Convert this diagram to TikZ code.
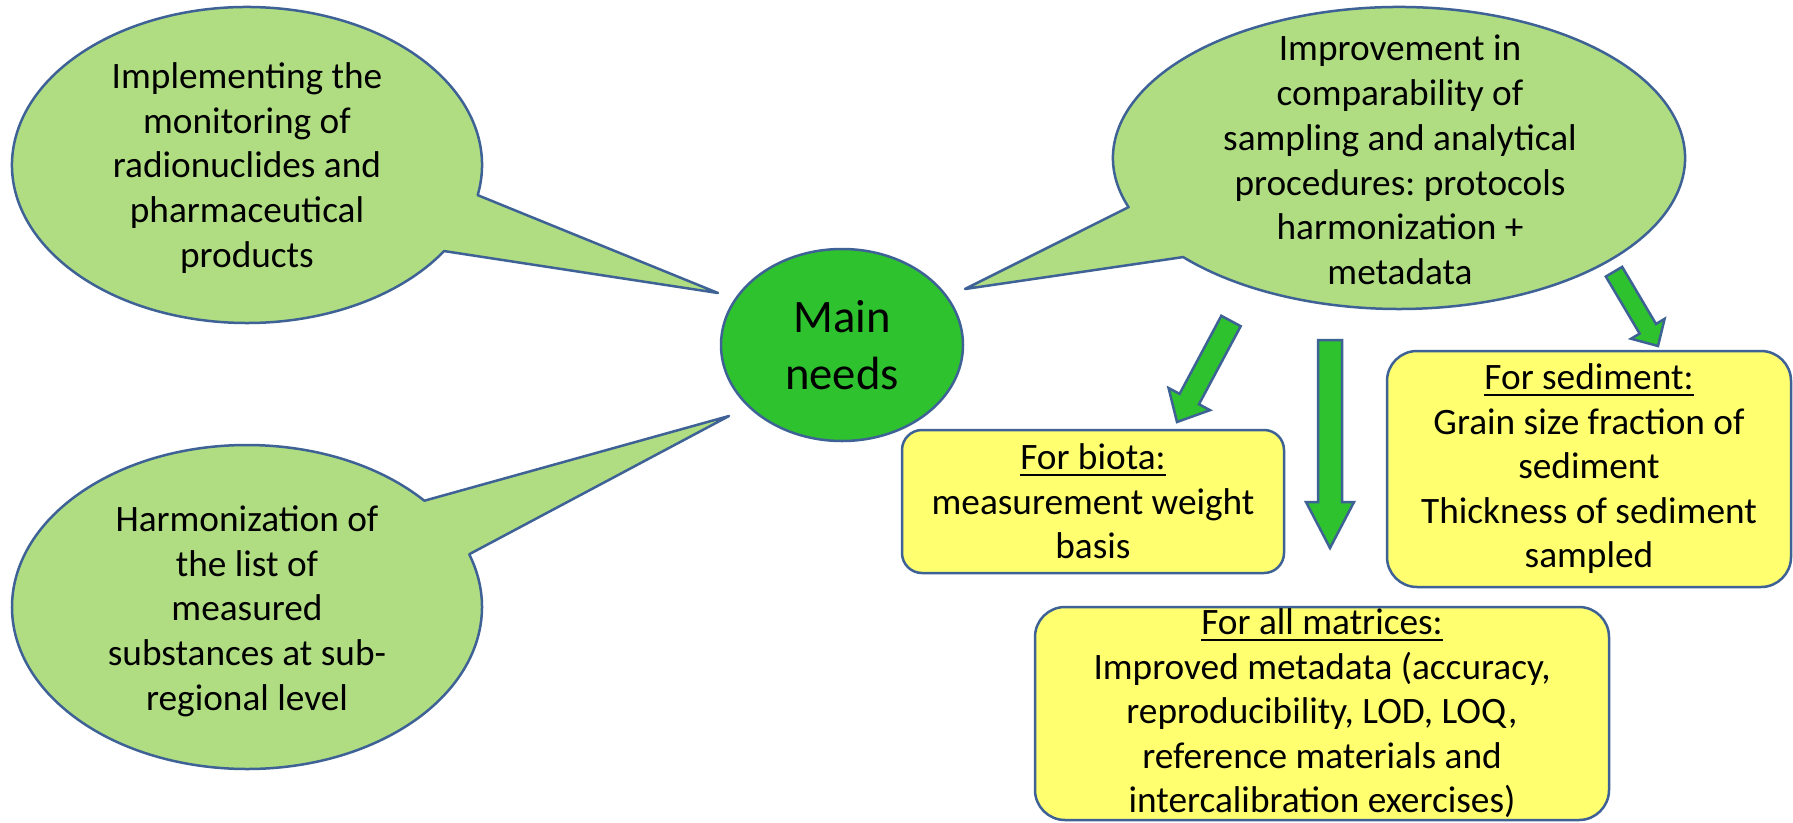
\documentclass[tikz,border=0pt]{standalone}
\usepackage{fontspec}
\setmainfont{Carlito}
\usetikzlibrary{shapes.geometric,calc}
\frenchspacing

\definecolor{edgeblue}{RGB}{62,98,150}
\definecolor{bubblegreen}{RGB}{176,221,130}
\definecolor{needgreen}{RGB}{46,194,46}
\definecolor{noteyellow}{RGB}{255,255,112}

\tikzset{
  bubble/.style={fill=bubblegreen, draw=edgeblue, line width=2.5pt, line join=round},
  bubbletext/.style={align=center, font=\fontsize{37.3}{44.7}\selectfont},
  hub/.style={ellipse, fill=needgreen, draw=edgeblue, line width=2.5pt,
    minimum width=242pt, minimum height=192pt, inner sep=0pt, align=center,
    font=\fontsize{46.6}{57}\selectfont},
  note/.style={rectangle, fill=noteyellow, draw=edgeblue, line width=2.5pt,
    inner sep=0pt, align=center, font=\fontsize{37.3}{44.5}\selectfont},
  flow/.style={fill=needgreen, draw=edgeblue, line width=2.5pt, line join=miter}
}

% underlined heading
\newcommand{\undl}[1]{\setbox0\hbox{#1}\rlap{\rule[-6pt]{\wd0}{2pt}}\box0}
% block arrow: start, end, half shaft, half head, head length
\newcommand{\flowarrow}[5]{%
  \path ($(#2)!#5pt!(#1)$) coordinate (hb);
  \filldraw[flow] ($(#1)!#3pt!90:(#2)$) -- ($(hb)!#3pt!90:(#2)$) -- ($(hb)!#4pt!90:(#2)$)
    -- (#2) -- ($(hb)!#4pt!-90:(#2)$) -- ($(hb)!#3pt!-90:(#2)$) -- ($(#1)!#3pt!-90:(#2)$) -- cycle;
}

\begin{document}
\begin{tikzpicture}[x=1pt, y=-1pt]
  \path[use as bounding box, fill=white] (0,0) rectangle (1793,822);

  \coordinate (tipA) at (718,293);
  \coordinate (tipB) at (729,416);
  \coordinate (tipC) at (965,289);

  % speech bubbles
  \filldraw[bubble] (247,165) ++(11:235 and 158)
    arc[start angle=11, end angle=-327, x radius=235, y radius=158] -- (tipA) -- cycle;
  \filldraw[bubble] (247,607) ++(-41:235 and 162)
    arc[start angle=-41, end angle=-379, x radius=235, y radius=162] -- (tipB) -- cycle;
  \filldraw[bubble] (1399,158) ++(161:286 and 151)
    arc[start angle=161, end angle=499, x radius=286, y radius=151] -- (tipC) -- cycle;

  \node[bubbletext] (impl) at (247,168) {Implementing the\\monitoring of\\radionuclides and\\pharmaceutical\\products};
  \node[bubbletext] (harm) at (247,611) {Harmonization of\\the list of\\measured\\substances at sub-\\regional level};
  \node[bubbletext] (impr) at (1400,160) {Improvement in\\comparability of\\sampling and analytical\\procedures: protocols\\harmonization +\\metadata};

  \node[hub] (needs) at (842,345) {Main\\needs};

  % target boxes
  \node[note, rounded corners=20pt, minimum width=382pt, minimum height=143pt] (biota) at (1093,501.5)
    {\undl{For biota:}\\measurement weight\\basis};
  \node[note, rounded corners=30pt, minimum width=404pt, minimum height=236pt] (sediment) at (1589,469)
    {\undl{For sediment:}\\Grain size fraction of\\sediment\\Thickness of sediment\\sampled};
  \node[note, rounded corners=30pt, minimum width=574pt, minimum height=213pt] (matrices) at (1322,713.5)
    {\undl{For all matrices:}\\Improved metadata (accuracy,\\reproducibility, LOD, LOQ,\\reference materials and\\intercalibration exercises)};

  % arrows
  \coordinate (a1s) at (1231,321);
  \coordinate (a1e) at (1177,422);
  \coordinate (a2s) at (1330,340);
  \coordinate (a2e) at (1330,548);
  \coordinate (a3s) at (1614,271.7);
  \coordinate (a3e) at (1658,346);
  \flowarrow{a1s}{a1e}{11}{23.5}{26}
  \flowarrow{a2s}{a2e}{12}{24}{46}
  \flowarrow{a3s}{a3e}{9.5}{19.5}{20}
\end{tikzpicture}
\end{document}
